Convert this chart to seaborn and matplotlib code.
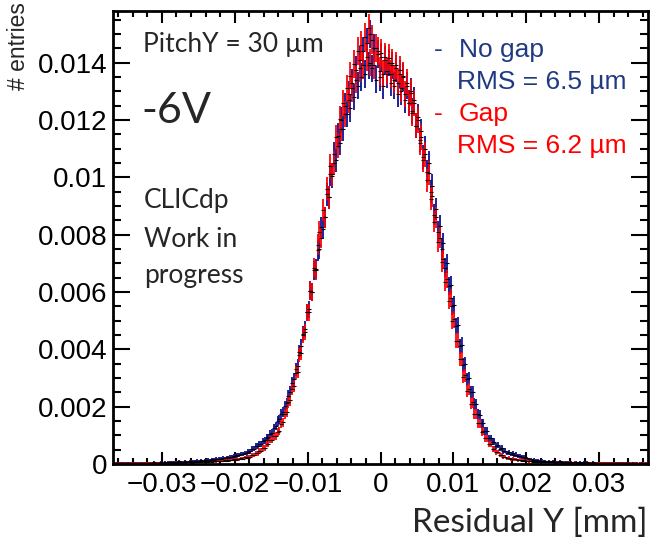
import numpy as np
import matplotlib
matplotlib.use("Agg")
import matplotlib.pyplot as plt
from matplotlib.ticker import MultipleLocator
import seaborn as sns

# ---- binning of the histograms (mm) ----
BIN_LO = -0.0365
BIN_W = 0.00025
N_ENTRIES = 60000  # used for the Poisson error bars

# ---- bin contents, in units of 1e-3 (normalised entries), 292 bins ----
no_gap_e3 = [
    0.02, 0.04, 0.03, 0.03, 0.04, 0.02, 0.03, 0.03,
    0.04, 0.03, 0.05, 0.03, 0.04, 0.02, 0.05, 0.04,
    0.04, 0.05, 0.03, 0.05, 0.04, 0.06, 0.04, 0.05,
    0.05, 0.06, 0.04, 0.06, 0.05, 0.07, 0.06, 0.07,
    0.06, 0.08, 0.07, 0.09, 0.07, 0.08, 0.09, 0.08,
    0.08, 0.10, 0.09, 0.11, 0.10, 0.12, 0.11, 0.13,
    0.11, 0.14, 0.12, 0.15, 0.13, 0.16, 0.15, 0.18,
    0.16, 0.19, 0.18, 0.21, 0.20, 0.23, 0.22, 0.25,
    0.25, 0.28, 0.28, 0.32, 0.30, 0.35, 0.34, 0.38,
    0.37, 0.43, 0.44, 0.52, 0.53, 0.62, 0.63, 0.71,
    0.70, 0.80, 0.82, 0.92, 0.93, 1.05, 1.08, 1.24,
    1.32, 1.50, 1.56, 1.75, 1.80, 2.02, 2.12, 2.38,
    2.50, 2.82, 2.95, 3.30, 3.42, 3.90, 4.10, 4.55,
    4.70, 5.30, 5.40, 6.05, 6.00, 6.75, 6.80, 7.45,
    7.50, 8.25, 8.20, 8.60, 9.40, 9.30, 10.10, 10.05,
    10.80, 10.60, 11.45, 11.20, 12.00, 11.70, 12.50, 12.20,
    12.90, 12.40, 13.30, 12.80, 13.75, 13.20, 14.10, 13.50,
    14.40, 13.60, 14.70, 13.90, 15.00, 13.80, 14.50, 13.40,
    14.30, 13.50, 14.20, 13.20, 14.10, 13.60, 14.00, 13.30,
    13.90, 13.20, 13.80, 12.90, 13.60, 13.00, 13.50, 12.70,
    13.20, 12.60, 13.00, 12.30, 12.70, 11.80, 12.10, 11.30,
    11.60, 10.70, 11.00, 10.20, 10.50, 9.50, 9.70, 8.70,
    8.90, 8.10, 8.30, 7.50, 7.70, 6.85, 7.00, 6.20,
    6.25, 5.50, 5.55, 4.80, 4.85, 4.10, 4.15, 3.45,
    3.50, 2.95, 3.00, 2.50, 2.50, 2.10, 2.08, 1.75,
    1.72, 1.42, 1.42, 1.15, 1.14, 0.90, 0.90, 0.76,
    0.78, 0.64, 0.66, 0.54, 0.55, 0.44, 0.46, 0.39,
    0.41, 0.35, 0.37, 0.31, 0.33, 0.27, 0.28, 0.24,
    0.24, 0.20, 0.20, 0.16, 0.17, 0.14, 0.15, 0.12,
    0.13, 0.10, 0.12, 0.10, 0.11, 0.08, 0.10, 0.08,
    0.09, 0.07, 0.08, 0.07, 0.09, 0.06, 0.08, 0.07,
    0.07, 0.06, 0.07, 0.05, 0.07, 0.06, 0.05, 0.07,
    0.05, 0.06, 0.04, 0.06, 0.05, 0.04, 0.06, 0.05,
    0.04, 0.05, 0.04, 0.03, 0.05, 0.04, 0.05, 0.03,
    0.04, 0.03, 0.05, 0.04, 0.03, 0.04, 0.03, 0.05,
    0.03, 0.04, 0.03, 0.02, 0.04, 0.03, 0.04, 0.02,
    0.03, 0.04, 0.02, 0.03,
]

gap_e3 = [
    0.03, 0.02, 0.04, 0.03, 0.02, 0.03, 0.04, 0.02,
    0.03, 0.04, 0.02, 0.03, 0.04, 0.03, 0.02, 0.04,
    0.03, 0.04, 0.03, 0.05, 0.03, 0.04, 0.05, 0.03,
    0.04, 0.05, 0.03, 0.05, 0.04, 0.06, 0.04, 0.05,
    0.05, 0.06, 0.04, 0.06, 0.05, 0.07, 0.05, 0.06,
    0.06, 0.07, 0.05, 0.07, 0.06, 0.08, 0.07, 0.08,
    0.09, 0.07, 0.09, 0.08, 0.10, 0.08, 0.10, 0.09,
    0.11, 0.10, 0.12, 0.11, 0.13, 0.12, 0.14, 0.13,
    0.14, 0.16, 0.15, 0.18, 0.17, 0.20, 0.19, 0.23,
    0.22, 0.26, 0.25, 0.31, 0.30, 0.37, 0.37, 0.46,
    0.46, 0.55, 0.56, 0.69, 0.71, 0.85, 0.84, 0.98,
    0.98, 1.12, 1.14, 1.40, 1.46, 1.75, 1.82, 2.16,
    2.22, 2.62, 2.72, 3.18, 3.22, 3.80, 3.88, 4.50,
    4.60, 5.30, 5.30, 6.05, 6.00, 6.85, 6.75, 7.65,
    8.10, 7.90, 8.85, 8.60, 9.60, 9.30, 10.40, 10.10,
    10.50, 11.40, 11.10, 12.05, 11.70, 12.60, 12.20, 13.10,
    12.70, 13.55, 13.10, 13.95, 13.40, 14.40, 13.80, 14.60,
    13.90, 14.90, 14.20, 15.20, 14.00, 14.80, 13.90, 14.50,
    14.40, 13.70, 14.35, 13.60, 14.20, 13.70, 14.15, 13.60,
    14.00, 13.40, 13.90, 13.30, 13.75, 13.10, 13.55, 12.90,
    13.30, 12.60, 12.95, 12.25, 12.60, 11.80, 12.00, 11.20,
    11.40, 10.60, 10.80, 9.90, 10.15, 9.25, 9.35, 8.45,
    8.60, 7.75, 7.90, 7.05, 7.15, 6.35, 6.45, 5.70,
    5.80, 5.00, 5.05, 4.30, 4.30, 3.65, 3.65, 3.05,
    3.10, 2.55, 2.60, 2.10, 2.15, 1.75, 1.75, 1.42,
    1.42, 1.12, 1.14, 0.90, 0.89, 0.69, 0.69, 0.52,
    0.52, 0.41, 0.42, 0.31, 0.32, 0.24, 0.26, 0.20,
    0.21, 0.17, 0.19, 0.16, 0.17, 0.13, 0.15, 0.12,
    0.13, 0.10, 0.12, 0.09, 0.10, 0.08, 0.09, 0.08,
    0.08, 0.07, 0.08, 0.06, 0.08, 0.07, 0.06, 0.08,
    0.06, 0.07, 0.05, 0.06, 0.07, 0.05, 0.06, 0.05,
    0.05, 0.06, 0.04, 0.05, 0.06, 0.04, 0.05, 0.05,
    0.04, 0.05, 0.04, 0.05, 0.03, 0.05, 0.04, 0.04,
    0.04, 0.03, 0.05, 0.04, 0.03, 0.04, 0.03, 0.05,
    0.03, 0.04, 0.03, 0.04, 0.02, 0.04, 0.03, 0.03,
    0.03, 0.02, 0.04, 0.03, 0.02, 0.03, 0.04, 0.02,
    0.03, 0.02, 0.03, 0.03,
]

series_names = ["No gap", "Gap"]
rms_labels = ["RMS = 6.5 \u00b5m", "RMS = 6.2 \u00b5m"]

x_ticks = [-0.03, -0.02, -0.01, 0.0, 0.01, 0.02, 0.03]
x_tick_labels = ["\u22120.03", "\u22120.02", "\u22120.01", "0", "0.01", "0.02", "0.03"]
y_ticks = [0, 0.002, 0.004, 0.006, 0.008, 0.01, 0.012, 0.014]
y_tick_labels = ["0", "0.002", "0.004", "0.006", "0.008", "0.01", "0.012", "0.014"]

# ---- style ----
sns.set_style("ticks")
plt.rcParams["font.family"] = ["Liberation Sans", "DejaVu Sans"]

fig = plt.figure(figsize=(6.54, 5.52), dpi=100)
ax = fig.add_axes([113 / 654, 88 / 552, 535 / 654, 453 / 552])

no_gap = np.array(no_gap_e3) * 1e-3
gap = np.array(gap_e3) * 1e-3
centers = BIN_LO + BIN_W * (np.arange(len(no_gap)) + 0.5)

styles = [
    (no_gap, "#0c0c8e", "#6b6bd2"),
    (gap, "#ff0000", "#ff5c5c"),
]
for vals, line_c, box_c in styles:
    err = np.sqrt(vals / N_ENTRIES)
    ax.bar(centers, 2 * err, bottom=vals - err, width=BIN_W,
           color=box_c, alpha=0.55, linewidth=0)
    ax.vlines(centers, vals - err, vals + err, color=line_c, lw=1.2)
    sns.scatterplot(x=centers, y=vals, marker="_", color="black", s=9,
                    linewidth=0.8, ax=ax, legend=False, zorder=3)

ax.set_xlim(-0.0367, 0.0367)
ax.set_ylim(0, 0.0158)
ax.set_xticks(x_ticks)
ax.set_xticklabels(x_tick_labels)
ax.set_yticks(y_ticks)
ax.set_yticklabels(y_tick_labels)
ax.xaxis.set_minor_locator(MultipleLocator(0.002))
ax.yaxis.set_minor_locator(MultipleLocator(0.0005))
ax.tick_params(which="both", direction="in", top=True, right=True,
               width=1.5, colors="black")
ax.tick_params(axis="x", which="major", length=8.6, labelsize=20, pad=6)
ax.tick_params(axis="x", which="minor", length=4.3)
ax.tick_params(axis="y", which="major", length=12, labelsize=20, pad=4)
ax.tick_params(axis="y", which="minor", length=6)
for s in ax.spines.values():
    s.set_linewidth(2)
    s.set_color("black")
ax.set_xlabel("")
ax.set_ylabel("")

def fx(px):
    return px / 654

def fy(py):
    return 1 - py / 552

cal = ["Lato", "DejaVu Sans"]
fig.text(fx(648), fy(532), "Residual Y [mm]", family=cal, fontsize=24,
         ha="right", va="baseline")
fig.text(fx(19), fy(2), "# entries", fontsize=16.5, rotation=90,
         ha="center", va="top")

fig.text(fx(143), fy(52), "PitchY = 30 \u00b5m", family=cal, fontsize=19,
         va="baseline")
fig.text(fx(141), fy(123), "-6V", family=cal, fontsize=31, va="baseline")
fig.text(fx(144), fy(208), "CLICdp", family=cal, fontsize=19, va="baseline")
fig.text(fx(144), fy(247), "Work in", family=cal, fontsize=19, va="baseline")
fig.text(fx(144), fy(283), "progress", family=cal, fontsize=19, va="baseline")

navy = "#1f3a82"
red = "#ff0000"
fs_leg = 19
fig.text(fx(434), fy(57), "-", color=navy, fontsize=fs_leg, va="baseline")
fig.text(fx(459), fy(57), series_names[0], color=navy, fontsize=fs_leg, va="baseline")
fig.text(fx(457), fy(89), rms_labels[0], color=navy, fontsize=fs_leg, va="baseline")
fig.text(fx(434), fy(121), "-", color=red, fontsize=fs_leg, va="baseline")
fig.text(fx(459), fy(121), series_names[1], color=red, fontsize=fs_leg, va="baseline")
fig.text(fx(457), fy(153), rms_labels[1], color=red, fontsize=fs_leg, va="baseline")

fig.savefig("out.png", dpi=100)
